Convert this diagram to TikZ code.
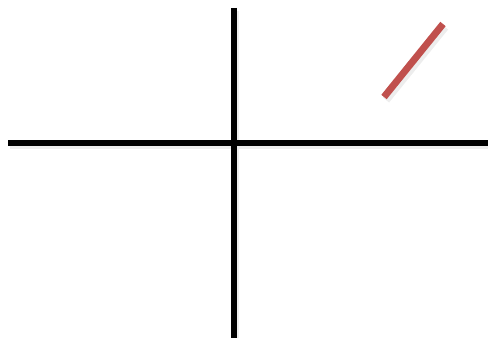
\documentclass[tikz,border=0pt]{standalone}
\usetikzlibrary{calc}
\definecolor{rojo}{RGB}{192,80,77}
\tikzset{
    eje/.style={line width=4pt, black},
    sombra/.style={line width=5pt, black!7},
    tramo/.style={line width=5.2pt, rojo},
}

\begin{document}
\begin{tikzpicture}[x=0.75pt, y=-0.75pt]
\useasboundingbox (0,0) rectangle (488,338);
% ejes
\coordinate (izq) at (8,143);
\coordinate (der) at (488,143);
\coordinate (arr) at (234,8);
\coordinate (aba) at (234,338);
\draw[sombra] ($(izq)+(2,3)$) -- ($(der)+(2,3)$);
\draw[sombra] ($(arr)+(2,3)$) -- ($(aba)+(2,3)$);
\draw[eje] (izq) -- (der);
\draw[eje] (arr) -- (aba);
% segmento rojo
\coordinate (p) at (384,97);
\coordinate (q) at (443,24);
\draw[sombra, line width=6pt] ($(p)+(2,3)$) -- ($(q)+(2,3)$);
\draw[tramo] (p) -- (q);
\end{tikzpicture}
\end{document}
